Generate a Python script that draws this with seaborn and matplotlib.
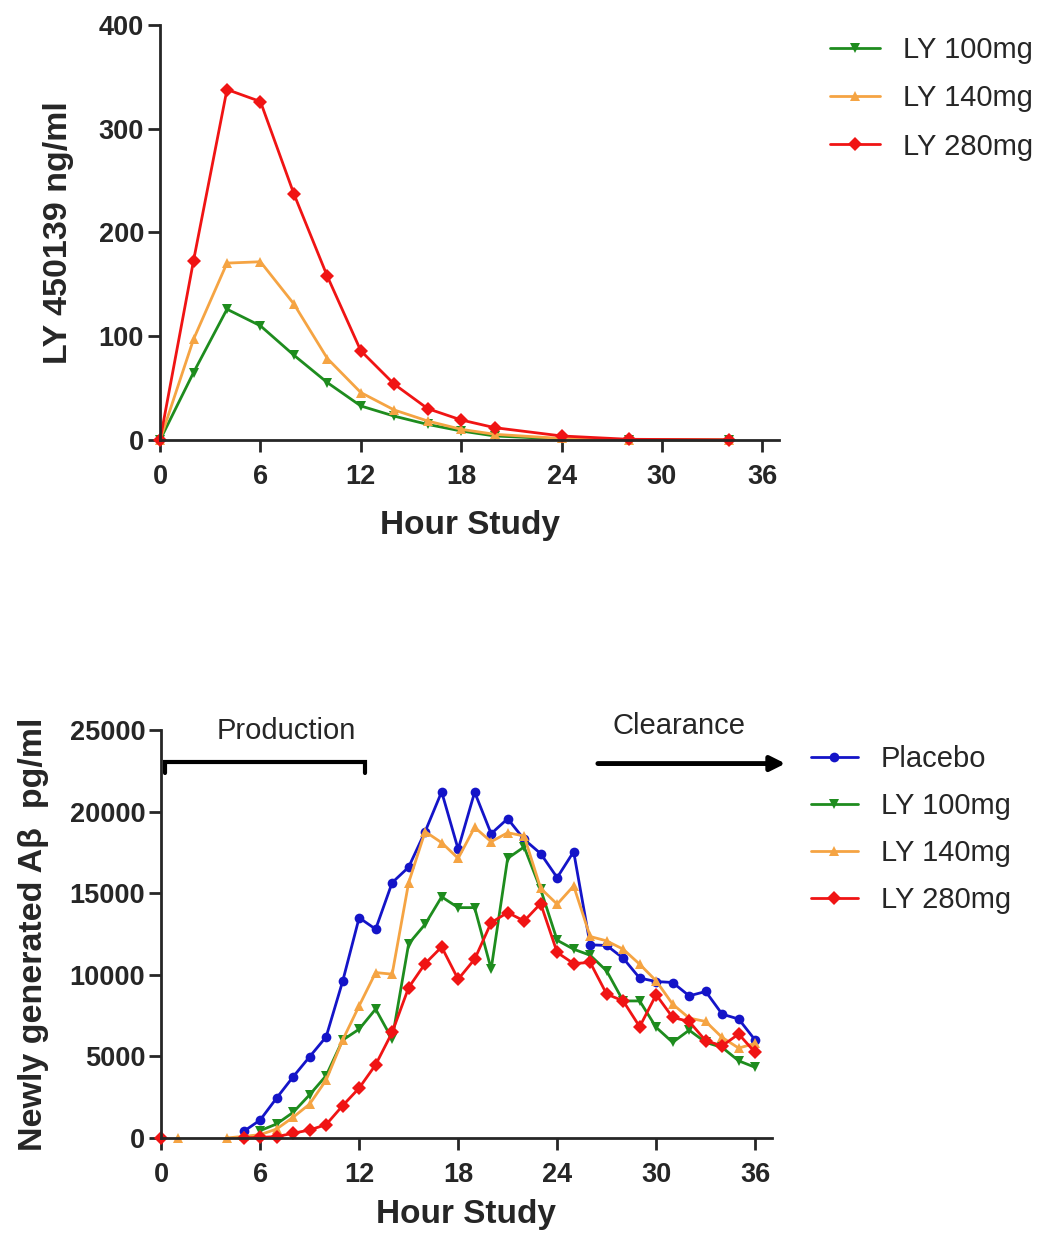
import numpy as np
import pandas as pd
import matplotlib
matplotlib.use("Agg")
import matplotlib.pyplot as plt
import seaborn as sns

# --- datos ---
# panel superior: concentracion plasmatica
horas_pk = [0, 2, 4, 6, 8, 10, 12, 14, 16, 18, 20, 24, 28, 34]
pk_100 = [0, 65, 126, 110, 81.7, 55.3, 32.8, 23, 15, 8.7, 3.9, 1, 0.2, 0]
pk_140 = [0, 97, 170.4, 171.7, 131, 78.5, 45.7, 28.9, 18.3, 10.3, 5.5, 1.5, 0.3, 0]
pk_280 = [0, 172.7, 337.6, 326, 237, 157.6, 85.9, 53.7, 30.2, 19.3, 11.9, 3.9, 0.7, 0.2]

# panel inferior: Abeta nuevo (hora 0..36, NaN = sin dato)
horas_ab = list(range(37))
nan = np.nan
ab_placebo = [nan, nan, nan, nan, nan,
              400, 1100, 2450, 3750, 4980, 6200, 9600, 13500, 12800, 15650, 16600,
              18780, 21220, 17700, 21200, 18650, 19570, 18300, 17430, 15960, 17550,
              11840, 11800, 11020, 9800, 9590, 9530, 8710, 8980, 7590, 7290, 6000]
ab_100 = [nan, nan, nan, nan, nan, nan,
          450, 860, 1570, 2650, 3820, 6000, 6670, 7900, 6060, 11900, 13100,
          14780, 14120, 14120, 10350, 17140, 17840, 15240, 12120, 11570, 11200,
          10240, 8400, 8400, 6780, 5860, 6610, 5860, 5550, 4730, 4330]
ab_140 = [nan, 0, nan, nan, 0,
          100, 200, 550, 1270, 2080, 3550, 6000, 8100, 10140, 10040, 15650,
          18780, 18100, 17140, 19040, 18160, 18710, 18510, 15300, 14330, 15450,
          12350, 12080, 11570, 10650, 9630, 8200, 7350, 7140, 6160, 5510, 5800]
ab_280 = [0, nan, nan, nan, nan,
          0, 40, 80, 290, 490, 820, 1980, 3060, 4490, 6470, 9220,
          10690, 11710, 9730, 10960, 13200, 13820, 13300, 14370, 11370, 10690,
          10760, 8820, 8400, 6820, 8780, 7390, 7140, 5960, 5650, 6370, 5240]

grupos_pk = ["LY 100mg", "LY 140mg", "LY 280mg"]
grupos_ab = ["Placebo", "LY 100mg", "LY 140mg", "LY 280mg"]

colores = {"Placebo": "#1414c8", "LY 100mg": "#1e8c1e",
           "LY 140mg": "#f5a443", "LY 280mg": "#f01414"}
marcas = {"Placebo": "o", "LY 100mg": "v", "LY 140mg": "^", "LY 280mg": "D"}


def a_largo(horas, series):
    # formato largo; 'seg' separa tramos cortados por NaN
    filas = []
    for nombre, vals in series.items():
        seg = 0
        for h, v in zip(horas, vals):
            if np.isnan(v):
                seg += 1
                continue
            filas.append((h, v, nombre, seg))
    return pd.DataFrame(filas, columns=["hora", "valor", "grupo", "seg"])


df_pk = a_largo(horas_pk, dict(zip(grupos_pk, [pk_100, pk_140, pk_280])))
df_ab = a_largo(horas_ab, dict(zip(grupos_ab, [ab_placebo, ab_100, ab_140, ab_280])))

sns.set_theme(style="ticks")
plt.rcParams["font.family"] = ["Liberation Sans", "DejaVu Sans"]

fig = plt.figure(figsize=(10.6, 12.36), dpi=100)
ax1 = fig.add_axes([0.151, 0.644, 0.584, 0.336])
ax2 = fig.add_axes([0.152, 0.0793, 0.576, 0.330])

estilo_linea = dict(estimator=None, units="seg", dashes=False, lw=2.0, ms=7,
                    mew=0, clip_on=False)

sns.lineplot(data=df_pk, x="hora", y="valor", hue="grupo", style="grupo",
             hue_order=grupos_pk, style_order=grupos_pk,
             palette=colores, markers=marcas, ax=ax1, **estilo_linea)
sns.lineplot(data=df_ab, x="hora", y="valor", hue="grupo", style="grupo",
             hue_order=grupos_ab, style_order=grupos_ab,
             palette=colores, markers=marcas, ax=ax2, **estilo_linea)

for ax in (ax1, ax2):
    sns.despine(ax=ax)
    for s in ("left", "bottom"):
        ax.spines[s].set_linewidth(2.0)
    ax.tick_params(width=2.0, length=8.5, labelsize=19.5)
    ax.tick_params(axis="x", pad=9)
    ax.tick_params(axis="y", pad=3)
    ax.set_xlim(0, 37)
    ax.set_xticks(range(0, 37, 6))

ax1.set_xlabel("Hour Study", fontsize=24, fontweight="bold", labelpad=14)
ax2.set_xlabel("Hour Study", fontsize=24, fontweight="bold", labelpad=8)

ax1.set_ylim(0, 400)
ax1.set_yticks(range(0, 401, 100))
ax1.set_ylabel("LY 450139 ng/ml", fontsize=24.5, fontweight="bold", labelpad=18)

ax2.set_ylim(0, 25000)
ax2.set_yticks(range(0, 25001, 5000))
ax2.set_ylabel("Newly generated A\u03b2  pg/ml", fontsize=24.5, fontweight="bold", labelpad=15)
for t in ax1.get_xticklabels() + ax1.get_yticklabels() + ax2.get_xticklabels() + ax2.get_yticklabels():
    t.set_fontweight("bold")

# leyendas fuera del area de datos
sns.move_legend(ax1, "upper left", bbox_to_anchor=(0.783, 0.971),
                bbox_transform=fig.transFigure, frameon=False, title=None,
                fontsize=21, handlelength=1.72, handletextpad=0.8,
                labelspacing=0.7, borderpad=0, borderaxespad=0)
sns.move_legend(ax2, "upper left", bbox_to_anchor=(0.765, 0.397),
                bbox_transform=fig.transFigure, frameon=False, title=None,
                fontsize=21, handlelength=1.6, handletextpad=0.8,
                labelspacing=0.65, borderpad=0, borderaxespad=0)

# anotaciones Production / Clearance
PROD_X0, PROD_X1, PROD_Y, PROD_TICK = 0.25, 12.35, 23050, 22400
ax2.plot([PROD_X0, PROD_X0, PROD_X1, PROD_X1], [PROD_TICK, PROD_Y, PROD_Y, PROD_TICK],
         color="black", lw=3, clip_on=False, solid_joinstyle="miter")
ax2.text(7.6, 24950, "Production", ha="center", va="center", fontsize=21)
ax2.text(31.4, 25250, "Clearance", ha="center", va="center", fontsize=21)
ax2.annotate("", xy=(38.0, 22950), xytext=(26.3, 22950),
             arrowprops=dict(arrowstyle="-|>", lw=3.5, color="black", mutation_scale=22),
             annotation_clip=False)

plt.savefig("out.png", dpi=100)
